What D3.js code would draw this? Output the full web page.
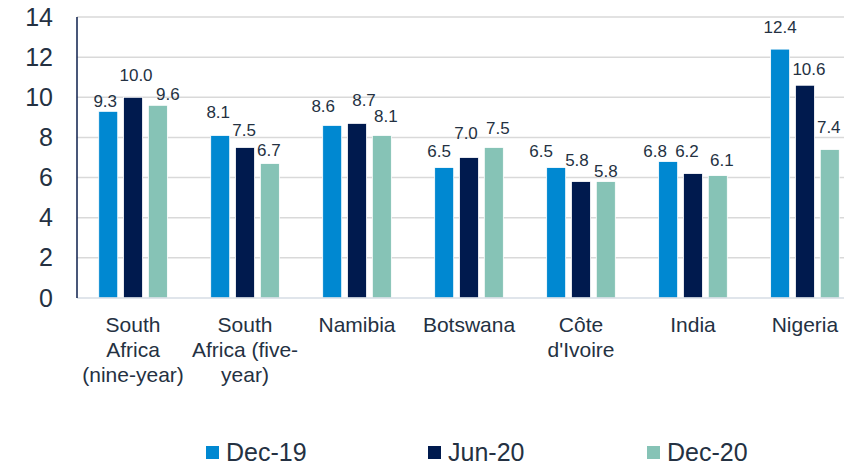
<!DOCTYPE html>
<html>
<head>
<meta charset="utf-8">
<script src="https://cdn.jsdelivr.net/npm/d3@7"></script>
<style>
  body { margin: 0; background: #fff; }
  svg { display: block; font-family: "Liberation Sans", Arial, sans-serif; }
</style>
</head>
<body>
<script>
// chart data
const categories = ["South\nAfrica\n(nine-year)", "South\nAfrica (five-\nyear)", "Namibia", "Botswana", "Côte\nd'Ivoire", "India", "Nigeria"];
const seriesNames = ["Dec-19", "Jun-20", "Dec-20"];
const dec19 = [9.3, 8.1, 8.6, 6.5, 6.5, 6.8, 12.4];
const jun20 = [10.0, 7.5, 8.7, 7.0, 5.8, 6.2, 10.6];
const dec20 = [9.6, 6.7, 8.1, 7.5, 5.8, 6.1, 7.4];
const yTicks = [0, 2, 4, 6, 8, 10, 12, 14];

// label placement tweaks (dx, lift above bar) per category, per series
const labelNudge = [
  [[-3, 4], [3, 16], [10, 5]],
  [[-2, 17], [-1, 11], [-1, 8]],
  [[-9, 13], [7, 17], [4, 13]],
  [[-5, 11], [-3, 19], [4, 13]],
  [[-15, 11], [-4, 16], [0, 5]],
  [[-13, 5], [-6, 17], [4, 10]],
  [[0, 16], [4, 10], [-1, 16]]
];

const colors = ["#0088d1", "#001a4e", "#86c3b6"];
const textColor = "#243142";

const W = 844, H = 465;
const plot = { left: 77, right: 861, top: 17, bottom: 298 };

const svg = d3.select("body").append("svg")
  .attr("width", W)
  .attr("height", H);

const x0 = d3.scaleBand()
  .domain(categories)
  .range([plot.left, plot.right])
  .paddingInner(0.387)
  .paddingOuter(0.194);

const x1 = d3.scaleBand()
  .domain(seriesNames)
  .range([0, x0.bandwidth()])
  .paddingInner(0.234);

const y = d3.scaleLinear().domain([0, 14]).range([plot.bottom, plot.top]);

// gridlines
svg.append("g")
  .selectAll("line")
  .data(yTicks.filter(d => d > 0))
  .join("line")
  .attr("x1", plot.left).attr("x2", W)
  .attr("y1", d => y(d)).attr("y2", d => y(d))
  .attr("stroke", "#d9d9d9")
  .attr("stroke-width", 1.5);

// y axis labels
const yAxis = svg.append("g")
  .attr("transform", `translate(${plot.left},0)`)
  .call(d3.axisLeft(y).tickValues(yTicks).tickSize(0).tickPadding(24));
yAxis.select(".domain").remove();
yAxis.selectAll("text")
  .attr("font-size", 25)
  .attr("font-family", "Liberation Sans, Arial, sans-serif")
  .attr("fill", textColor);

// bars
const table = categories.map((c, i) => ({
  cat: c,
  values: [dec19[i], jun20[i], dec20[i]].map((v, k) => ({ name: seriesNames[k], value: v, k, i }))
}));

const groups = svg.append("g")
  .selectAll("g")
  .data(table)
  .join("g")
  .attr("transform", d => `translate(${x0(d.cat)},0)`);

groups.selectAll("rect")
  .data(d => d.values)
  .join("rect")
  .attr("x", d => x1(d.name))
  .attr("y", d => y(d.value))
  .attr("width", x1.bandwidth())
  .attr("height", d => y(0) - y(d.value))
  .attr("fill", d => colors[d.k])
  .attr("stroke", "#ffffff")
  .attr("stroke-width", 0.8);

groups.selectAll("text.val")
  .data(d => d.values)
  .join("text")
  .attr("class", "val")
  .attr("x", d => x1(d.name) + x1.bandwidth() / 2 + labelNudge[d.i][d.k][0])
  .attr("y", d => y(d.value) - labelNudge[d.i][d.k][1])
  .attr("text-anchor", "middle")
  .attr("font-size", 17)
  .attr("fill", textColor)
  .text(d => d.value.toFixed(1));

// axis lines
svg.append("line")
  .attr("x1", plot.left).attr("x2", W)
  .attr("y1", y(0)).attr("y2", y(0))
  .attr("stroke", "#d6dce5")
  .attr("stroke-width", 1.5);

svg.append("line")
  .attr("x1", plot.left).attr("x2", plot.left)
  .attr("y1", y(14)).attr("y2", y(0))
  .attr("stroke", "#0d1f4d")
  .attr("stroke-width", 1.5);

// category labels
svg.append("g")
  .selectAll("text")
  .data(categories)
  .join("text")
  .attr("x", d => x0(d) + x0.bandwidth() / 2)
  .attr("y", 332)
  .attr("text-anchor", "middle")
  .attr("font-size", 21)
  .attr("fill", textColor)
  .each(function(d) {
    d3.select(this).selectAll("tspan")
      .data(d.split("\n"))
      .join("tspan")
      .attr("x", d3.select(this).attr("x"))
      .attr("dy", (t, i) => i === 0 ? 0 : 25)
      .text(t => t);
  });

// legend
const legendX = [206, 428, 647];
const legend = svg.append("g")
  .selectAll("g")
  .data(seriesNames)
  .join("g")
  .attr("transform", (d, i) => `translate(${legendX[i]},446)`);

legend.append("rect")
  .attr("width", 13).attr("height", 13)
  .attr("fill", (d, i) => colors[i]);

legend.append("text")
  .attr("x", 20)
  .attr("y", 15)
  .attr("font-size", 25)
  .attr("fill", textColor)
  .text(d => d);
</script>
</body>
</html>
